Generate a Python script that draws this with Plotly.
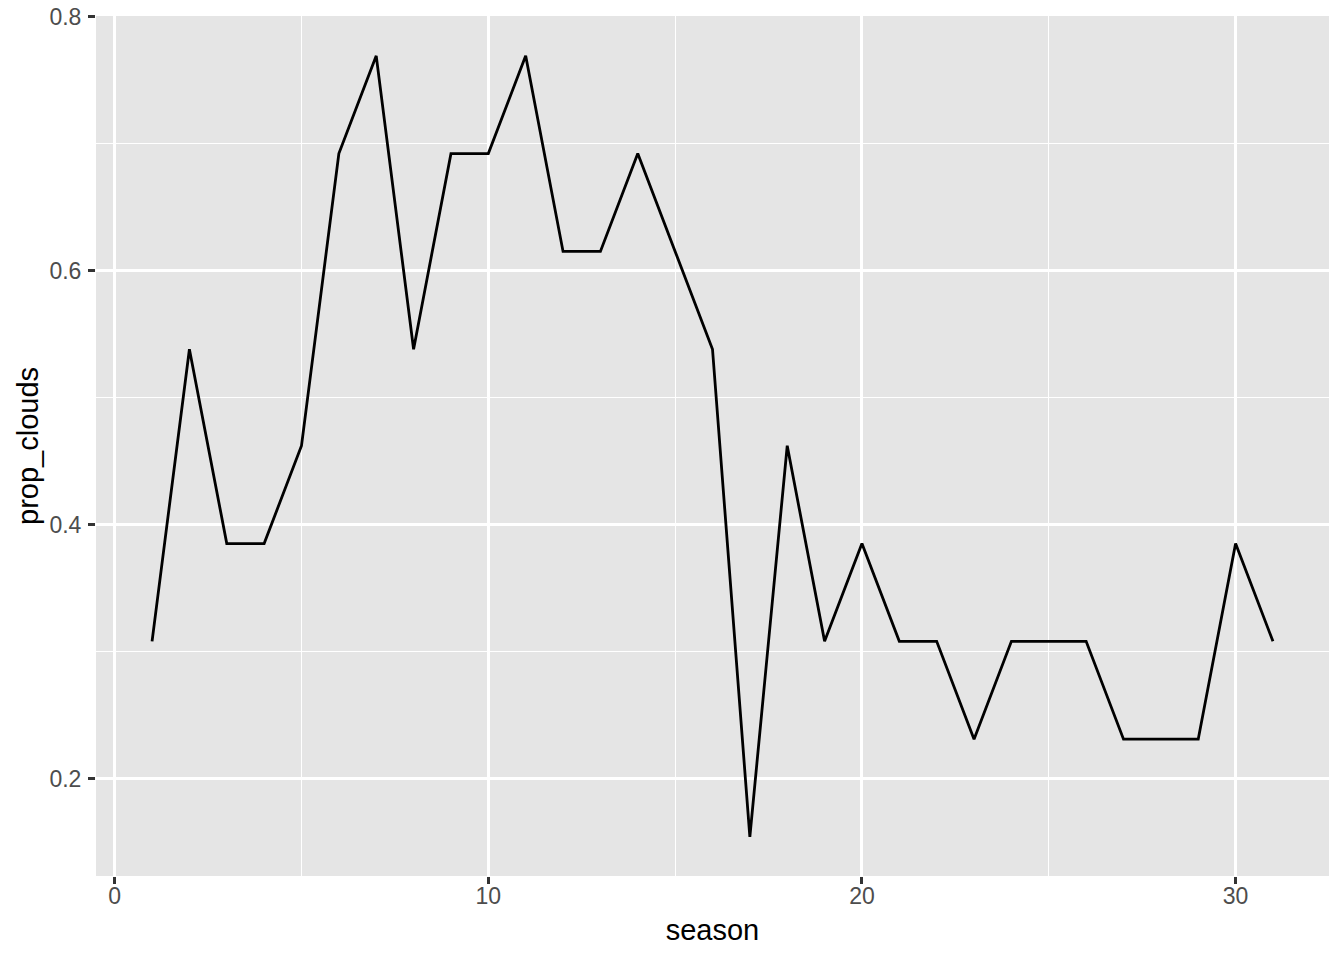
import plotly.graph_objects as go

season = list(range(1, 32))
prop_clouds = [0.308, 0.538, 0.385, 0.385, 0.462, 0.692, 0.769, 0.538, 0.692, 0.692,
               0.769, 0.615, 0.615, 0.692, 0.615, 0.538, 0.154, 0.462, 0.308, 0.385,
               0.308, 0.308, 0.231, 0.308, 0.308, 0.308, 0.231, 0.231, 0.231, 0.385,
               0.308]
x_ticks = [0, 10, 20, 30]
y_ticks = [0.2, 0.4, 0.6, 0.8]
y_tick_labels = ["0.2", "0.4", "0.6", "0.8"]

FONT = "Liberation Sans, Arial, Helvetica, sans-serif"

fig = go.Figure()
fig.add_trace(go.Scatter(x=season, y=prop_clouds, mode="lines",
                         line=dict(color="black", width=2.8), hoverinfo="x+y"))

xspan = max(season) - min(season)
yspan = max(prop_clouds) - min(prop_clouds)

axis_common = dict(
    showline=False, zeroline=False, automargin=False,
    showgrid=True, gridcolor="white", gridwidth=2.8,
    ticks="outside", ticklen=7, tickwidth=2.8, tickcolor="#333333",
    tickfont=dict(family=FONT, size=23, color="#4D4D4D"),
    ticklabeloverflow="allow",
)

fig.update_layout(
    width=1344, height=960,
    paper_bgcolor="white", plot_bgcolor="#E5E5E5",
    margin=dict(l=96, r=15, t=16, b=84, autoexpand=False),
    showlegend=False,
    xaxis=dict(
        **axis_common,
        range=[min(season) - 0.05 * xspan, max(season) + 0.05 * xspan],
        tickmode="array", tickvals=x_ticks, ticktext=[str(v) for v in x_ticks],
        ticklabelstandoff=-8,
        minor=dict(dtick=5, tick0=0, showgrid=True, gridcolor="white", gridwidth=1.4, ticks=""),
        title=dict(text="season", font=dict(family=FONT, size=29, color="black"), standoff=12),
    ),
    yaxis=dict(
        **axis_common,
        range=[min(prop_clouds) - 0.05 * yspan, max(prop_clouds) + 0.05 * yspan + 0.0006],
        tickmode="array", tickvals=y_ticks, ticktext=y_tick_labels,
        ticklabelstandoff=2,
        minor=dict(dtick=0.1, tick0=0, showgrid=True, gridcolor="white", gridwidth=1.4, ticks=""),
        title=dict(text="prop_clouds", font=dict(family=FONT, size=29, color="black"), standoff=2),
    ),
)

fig.write_html("out.html", config={"displayModeBar": False},
               post_script="document.body.style.margin='0';")
